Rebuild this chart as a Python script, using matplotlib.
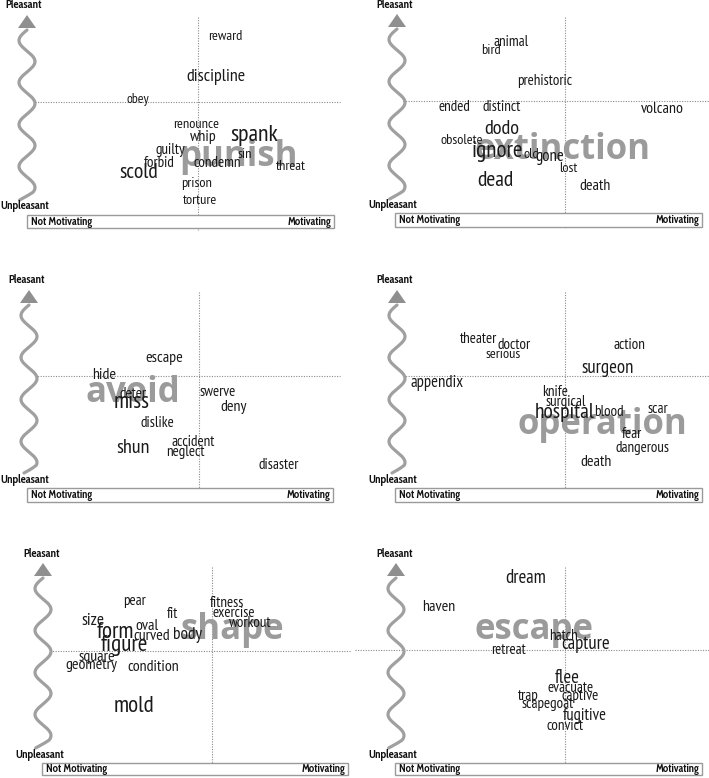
import numpy as np
import matplotlib
matplotlib.use("Agg")
import matplotlib.pyplot as plt
from matplotlib import font_manager
from matplotlib.patches import Rectangle, Polygon

W_PX, H_PX = 709, 778
DPI = 100

def pick(fams):
    out = []
    for f in fams:
        try:
            font_manager.findfont(f, fallback_to_default=False)
            out.append(f)
        except Exception:
            pass
    return out[:1] + ["DejaVu Sans"]

WORD_FONT = pick(["PT Sans Narrow", "Fira Sans Condensed", "Cabin Condensed", "Roboto Condensed"])
KEY_FONT = pick(["Open Sans"])
LABEL_FONT = pick(["Cabin Condensed", "Lato"])

# ---------------- data ----------------
# each panel: key concept, its position, associated words with
# motivation (x), pleasantness (y) and relative weight
# panel 1: punish
p1_key = "punish"
p1_key_xy = (0.41, -0.55)
p1_words = ["reward", "discipline", "obey", "renounce", "whip", "spank", "guilty", "sin",
            "forbid", "condemn", "threat", "scold", "prison", "torture"]
p1_x = [0.27, 0.18, -0.60, -0.02, 0.05, 0.56, -0.28, 0.47, -0.39, 0.19, 0.93, -0.59, -0.01, 0.02]
p1_y = [0.66, 0.25, 0.03, -0.22, -0.35, -0.34, -0.48, -0.53, -0.61, -0.61, -0.65, -0.71, -0.82, -0.99]
p1_weight = [1.0, 1.25, 0.95, 1.0, 1.1, 1.65, 1.05, 1.0, 1.05, 1.05, 1.0, 1.5, 1.0, 1.0]

# panel 2: extinction
p2_key = "extinction"
p2_key_xy = (-0.03, -0.49)
p2_words = ["animal", "bird", "prehistoric", "ended", "distinct", "volcano", "dodo", "obsolete",
            "ignore", "old", "gone", "lost", "dead", "death"]
p2_x = [-0.54, -0.74, -0.20, -1.11, -0.63, 0.97, -0.63, -1.03, -0.68, -0.34, -0.15, 0.03, -0.70, 0.30]
p2_y = [0.59, 0.51, 0.20, -0.06, -0.06, -0.08, -0.28, -0.39, -0.50, -0.53, -0.56, -0.67, -0.80, -0.85]
p2_weight = [1.05, 1.0, 1.05, 1.05, 1.05, 1.1, 1.4, 1.0, 1.6, 1.0, 1.15, 1.0, 1.5, 1.1]

# panel 3: avoid
p3_key = "avoid"
p3_key_xy = (-0.66, -0.17)
p3_words = ["escape", "hide", "deter", "miss", "swerve", "deny", "dislike", "shun",
            "accident", "neglect", "disaster"]
p3_x = [-0.35, -0.95, -0.66, -0.67, 0.19, 0.35, -0.42, -0.66, -0.06, -0.14, 0.80]
p3_y = [0.18, 0.01, -0.18, -0.27, -0.16, -0.31, -0.47, -0.72, -0.66, -0.76, -0.89]
p3_weight = [1.1, 1.1, 1.05, 1.6, 1.05, 1.1, 1.05, 1.4, 1.05, 1.05, 1.05]

# panel 4: operation
p4_key = "operation"
p4_key_xy = (0.37, -0.49)
p4_words = ["theater", "doctor", "serious", "action", "surgeon", "appendix", "knife", "surgical",
            "hospital", "blood", "scar", "fear", "dangerous", "death"]
p4_x = [-0.86, -0.51, -0.62, 0.64, 0.43, -1.28, -0.10, 0.01, 0.00, 0.44, 0.93, 0.67, 0.77, 0.31]
p4_y = [0.37, 0.31, 0.22, 0.31, 0.08, -0.07, -0.16, -0.26, -0.37, -0.36, -0.33, -0.58, -0.72, -0.86]
p4_weight = [1.05, 1.05, 1.0, 1.05, 1.3, 1.15, 1.05, 1.05, 1.5, 1.05, 1.05, 1.05, 1.05, 1.1]

# panel 5: shape
p5_key = "shape"
p5_key_xy = (0.20, 0.21)
p5_words = ["pear", "fitness", "fit", "exercise", "size", "workout", "form", "oval", "curved",
            "body", "figure", "square", "geometry", "condition", "mold"]
p5_x = [-0.77, 0.15, -0.40, 0.22, -1.19, 0.38, -0.97, -0.65, -0.60, -0.24, -0.88, -1.15, -1.21, -0.59, -0.78]
p5_y = [0.50, 0.48, 0.37, 0.38, 0.30, 0.28, 0.19, 0.25, 0.15, 0.16, 0.06, -0.06, -0.14, -0.16, -0.56]
p5_weight = [1.05, 1.05, 1.05, 1.05, 1.2, 1.05, 1.6, 1.1, 1.1, 1.2, 1.6, 1.1, 1.1, 1.1, 1.6]

# panel 6: escape
p6_key = "escape"
p6_key_xy = (-0.31, 0.20)
p6_words = ["dream", "haven", "hatch", "capture", "retreat", "flee", "evacuate", "trap",
            "captive", "scapegoat", "fugitive", "convict"]
p6_x = [-0.39, -1.26, -0.01, 0.21, -0.57, 0.02, 0.06, -0.37, 0.15, -0.17, 0.20, 0.00]
p6_y = [0.72, 0.43, 0.14, 0.06, 0.00, -0.28, -0.38, -0.46, -0.46, -0.54, -0.66, -0.76]
p6_weight = [1.3, 1.1, 1.05, 1.3, 1.05, 1.3, 1.05, 1.05, 1.05, 1.05, 1.15, 1.05]

y_axis_labels = ["Pleasant", "Unpleasant"]
x_axis_labels = ["Not Motivating", "Motivating"]

# ---------------- layout (pixel geometry of each panel) ----------------
layouts = [
    dict(ox=0, oy=0, cx=198, cy=102, ax_x=27, top=15, bot=200, bx0=27, bx1=334, by0=215, by1=228,
         hx0=35, hx1=340, vy0=17, vy1=230, plx=24, ply=5, ulx=0, uly=206),
    dict(ox=355, oy=0, cx=210, cy=101, ax_x=42, top=14, bot=199, bx0=40, bx1=347, by0=213, by1=227,
         hx0=48, hx1=354, vy0=17, vy1=228, plx=40, ply=5, ulx=13, uly=205),
    dict(ox=0, oy=265, cx=199, cy=111, ax_x=29, top=25, bot=208, bx0=27, bx1=333, by0=223, by1=237,
         hx0=35, hx1=340, vy0=27, vy1=237, plx=27, ply=15, ulx=0, uly=215),
    dict(ox=355, oy=265, cx=210, cy=111, ax_x=42, top=25, bot=208, bx0=40, bx1=347, by0=223, by1=237,
         hx0=48, hx1=354, vy0=27, vy1=237, plx=40, ply=15, ulx=13, uly=215),
    dict(ox=0, oy=535, cx=212, cy=116, ax_x=43, top=28, bot=213, bx0=42, bx1=348, by0=228, by1=240,
         hx0=50, hx1=350, vy0=32, vy1=240, plx=42, ply=19, ulx=15, uly=220),
    dict(ox=355, oy=535, cx=210, cy=115, ax_x=41, top=28, bot=213, bx0=40, bx1=347, by0=228, by1=240,
         hx0=0, hx1=354, vy0=32, vy1=240, plx=40, ply=19, ulx=13, uly=220),
]

panels = [
    (p1_key, p1_key_xy, p1_words, p1_x, p1_y, p1_weight),
    (p2_key, p2_key_xy, p2_words, p2_x, p2_y, p2_weight),
    (p3_key, p3_key_xy, p3_words, p3_x, p3_y, p3_weight),
    (p4_key, p4_key_xy, p4_words, p4_x, p4_y, p4_weight),
    (p5_key, p5_key_xy, p5_words, p5_x, p5_y, p5_weight),
    (p6_key, p6_key_xy, p6_words, p6_x, p6_y, p6_weight),
]

fig = plt.figure(figsize=(W_PX / DPI, H_PX / DPI), dpi=DPI)
fig.patch.set_facecolor("white")

PW, PH = 354, 243
SCALE = 100.0
BASE_FS = 10.4
ARROW_C = "#8f8f8f"
WAVE_C = "#a0a0a0"
LINE_C = "#8a8a8a"

for (key, key_xy, words, xs, ys, weights), L in zip(panels, layouts):
    ox, oy = L["ox"], L["oy"]
    ph = min(PH, H_PX - oy)
    ax = fig.add_axes([ox / W_PX, 1 - (oy + ph) / H_PX, PW / W_PX, ph / H_PX])
    cx, cy = L["cx"], L["cy"]
    ax.set_xlim((0 - cx) / SCALE, (PW - cx) / SCALE)
    ax.set_ylim((cy - ph) / SCALE, (cy - 0) / SCALE)
    ax.axis("off")

    def P(lx, ly):
        return ((np.asarray(lx) - cx) / SCALE, (cy - np.asarray(ly)) / SCALE)

    # dotted cross
    hx, hy = P([L["hx0"], L["hx1"]], [cy, cy])
    ax.plot(hx, hy, color=LINE_C, lw=0.8, ls=(0, (1, 1.3)), zorder=1)
    vx, vy = P([cx, cx], [L["vy0"], L["vy1"]])
    ax.plot(vx, vy, color=LINE_C, lw=0.8, ls=(0, (1, 1.3)), zorder=1)

    # wavy arrow
    head_base = L["top"] + 13
    t = np.linspace(head_base + 2, L["bot"], 400)
    period = 42.0
    wx = L["ax_x"] - 8 * np.sin(2 * np.pi * (t - head_base - 2) / period)
    wx = wx - 5 * np.clip((t - (L["bot"] - 8)) / 8, 0, 1)
    px_, py_ = P(wx, t)
    ax.plot(px_, py_, color=WAVE_C, lw=2.3, solid_capstyle="round", zorder=2)
    tri = np.array([P(L["ax_x"], L["top"]), P(L["ax_x"] - 9, head_base), P(L["ax_x"] + 9, head_base)])
    ax.add_patch(Polygon(tri, closed=True, color=ARROW_C, zorder=3, lw=0))

    # labels
    x0, y0 = P(L["plx"], L["ply"])
    ax.text(x0, y0, y_axis_labels[0], ha="center", va="center", fontsize=8.2,
            fontweight="bold", family=LABEL_FONT, color="#111111")
    x0, y0 = P(L["ulx"], L["uly"])
    ax.text(x0, y0, y_axis_labels[1], ha="left", va="center", fontsize=8.2,
            fontweight="bold", family=LABEL_FONT, color="#111111")

    # motivation box
    bx0, by1 = P(L["bx0"], L["by1"])
    bx1, by0 = P(L["bx1"], L["by0"])
    ax.add_patch(Rectangle((bx0, by1), bx1 - bx0, by0 - by1, facecolor="white",
                           edgecolor="#9a9a9a", lw=1.0, zorder=1.5))
    ymid = (by0 + by1) / 2
    ax.text(bx0 + 4 / SCALE, ymid, x_axis_labels[0], ha="left", va="center", fontsize=7.8,
            fontweight="bold", family=LABEL_FONT, color="#111111", zorder=4)
    ax.text(bx1 - 3 / SCALE, ymid, x_axis_labels[1], ha="right", va="center", fontsize=7.8,
            fontweight="bold", family=LABEL_FONT, color="#111111", zorder=4)

    # key word (grey, big)
    ax.text(key_xy[0], key_xy[1], key, ha="center", va="center", fontsize=25,
            fontweight="bold", family=KEY_FONT, color="#9b9b9b", zorder=5)

    # associated words
    for w, x, y, s in zip(words, xs, ys, weights):
        ax.text(x, y, w, ha="center", va="center", fontsize=BASE_FS * s, family=WORD_FONT,
                color="#1a1a1a", zorder=6)

fig.savefig("out.png", dpi=DPI, facecolor="white")
